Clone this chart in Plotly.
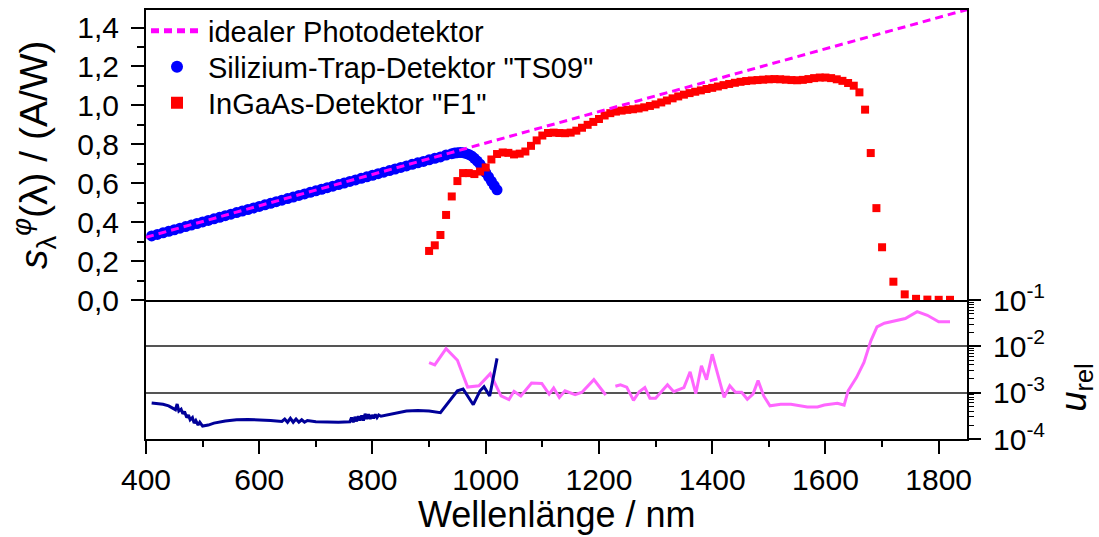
import plotly.graph_objects as go

# ---------------- data ----------------
ideal_x = [400, 1850]
ideal_s = [0.3226, 1.4921]

si_x = [410, 420, 430, 440, 450, 460, 470, 480, 490, 500,
        510, 520, 530, 540, 550, 560, 570, 580, 590, 600,
        610, 620, 630, 640, 650, 660, 670, 680, 690, 700,
        710, 720, 730, 740, 750, 760, 770, 780, 790, 800,
        810, 820, 830, 840, 850, 860, 870, 880, 890, 900,
        910, 920, 930, 940, 945, 950, 955, 960, 965, 970, 975, 980, 985,
        990, 995, 1000, 1005, 1010, 1015, 1020]
si_s = [0.329, 0.337, 0.345, 0.353, 0.361, 0.369, 0.377, 0.385, 0.393, 0.401,
        0.409, 0.417, 0.425, 0.433, 0.441, 0.449, 0.457, 0.465, 0.473, 0.481,
        0.489, 0.497, 0.505, 0.513, 0.521, 0.529, 0.537, 0.545, 0.553, 0.561,
        0.569, 0.577, 0.585, 0.593, 0.601, 0.609, 0.617, 0.625, 0.633, 0.641,
        0.649, 0.657, 0.665, 0.673, 0.681, 0.689, 0.697, 0.705, 0.712, 0.720,
        0.728, 0.735, 0.745, 0.752, 0.755, 0.757, 0.758, 0.757, 0.753, 0.748,
        0.740, 0.728, 0.714, 0.698, 0.678, 0.655, 0.633, 0.610, 0.588, 0.566]

ing_x = [900, 910, 920, 930, 940, 950, 960, 970, 980, 990,
         1000, 1010, 1020, 1030, 1040, 1050, 1060, 1070, 1080, 1090,
         1100, 1110, 1120, 1130, 1140, 1150, 1160, 1170, 1180, 1190,
         1200, 1210, 1220, 1230, 1240, 1250, 1260, 1270, 1280, 1290,
         1300, 1310, 1320, 1330, 1340, 1350, 1360, 1370, 1380, 1390,
         1400, 1410, 1420, 1430, 1440, 1450, 1460, 1470, 1480, 1490,
         1500, 1510, 1520, 1530, 1540, 1550, 1560, 1570, 1580, 1590,
         1600, 1610, 1620, 1630, 1640, 1650, 1660, 1670, 1680, 1690,
         1700, 1720, 1740, 1760, 1780, 1800, 1820]
ing_s = [0.252, 0.281, 0.334, 0.437, 0.532, 0.611, 0.652, 0.652, 0.647, 0.660,
         0.681, 0.722, 0.750, 0.758, 0.756, 0.748, 0.752, 0.763, 0.792, 0.820,
         0.845, 0.858, 0.860, 0.858, 0.857, 0.860, 0.870, 0.885, 0.900, 0.915,
         0.930, 0.948, 0.960, 0.968, 0.973, 0.977, 0.980, 0.984, 0.990, 0.997,
         1.005, 1.015, 1.025, 1.036, 1.046, 1.055, 1.063, 1.070, 1.077, 1.084,
         1.090, 1.097, 1.104, 1.110, 1.116, 1.121, 1.125, 1.128, 1.130, 1.132,
         1.134, 1.135, 1.134, 1.132, 1.130, 1.129, 1.131, 1.135, 1.140, 1.143,
         1.143, 1.140, 1.134, 1.126, 1.115, 1.101, 1.067, 0.978, 0.755, 0.472,
         0.271, 0.094, 0.029, 0.006, 0.002, 0.001, 0.001]

usi_x = [410, 420, 430, 440, 448, 452, 455, 458, 462, 465, 468, 472, 475, 478,
         482, 485, 488, 492, 495, 500, 510, 520, 540, 560, 580, 600, 620, 640,
         645, 650, 655, 660, 665, 670, 675, 680, 685, 700, 720, 740, 760, 763,
         766, 769, 772, 775, 778, 781, 784, 787, 790, 793, 796, 799, 802, 805,
         808, 811, 815, 820, 840, 860, 880, 900, 920, 935, 950, 960, 970, 978,
         990, 997, 1007, 1020]
usi_u = [6.0e-4, 5.8e-4, 5.6e-4, 5.2e-4, 4.7e-4, 4.3e-4, 5.7e-4, 4.0e-4, 4.4e-4,
         3.5e-4, 3.9e-4, 2.9e-4, 3.3e-4, 2.6e-4, 2.9e-4, 2.2e-4, 2.5e-4, 2.0e-4,
         2.3e-4, 1.9e-4, 2.0e-4, 2.2e-4, 2.45e-4, 2.6e-4, 2.65e-4, 2.6e-4, 2.5e-4,
         2.4e-4, 2.7e-4, 2.3e-4, 2.8e-4, 2.3e-4, 2.7e-4, 2.3e-4, 2.6e-4, 2.3e-4,
         2.5e-4, 2.35e-4, 2.3e-4, 2.3e-4, 2.35e-4, 2.9e-4, 2.3e-4, 3.0e-4, 2.4e-4,
         3.1e-4, 2.5e-4, 3.2e-4, 2.5e-4, 3.5e-4, 2.7e-4, 3.4e-4, 2.7e-4, 3.3e-4,
         2.8e-4, 3.4e-4, 2.9e-4, 3.3e-4, 3.1e-4, 3.2e-4, 3.6e-4, 4.0e-4, 4.1e-4,
         4.0e-4, 3.7e-4, 6.5e-4, 1.1e-3, 1.2e-3, 8.0e-4, 5.5e-4, 1.1e-3, 1.35e-3,
         8.5e-4, 5.5e-3]

uing_x = [900, 910, 930, 950, 968, 988, 1008, 1027, 1041, 1050, 1062, 1081, 1099,
          1112, 1120, 1130, 1140, 1158, 1170, 1191, 1212, 1220,
          1229, 1238, 1249, 1261, 1271, 1281, 1290, 1300, 1321, 1332, 1350, 1361,
          1371, 1381, 1390, 1400, 1421, 1431, 1441, 1452, 1462, 1472, 1481, 1491,
          1502, 1521, 1539, 1568, 1586, 1598, 1621, 1633, 1640, 1655, 1668, 1680,
          1691, 1704, 1741, 1762, 1780, 1800, 1820]
uing_u = [4.47e-3, 3.98e-3, 8.91e-3, 5.01e-3, 1.32e-3, 1.41e-3, 2.57e-3, 8.5e-4,
          7.1e-4, 1.07e-3, 8.5e-4, 1.62e-3, 1.58e-3, 9.3e-4, 1.26e-3, 7.9e-4,
          1.10e-3, 9.1e-4, 1.02e-3, 1.91e-3, 8.9e-4, None,
          1.38e-3, 1.48e-3, 1.32e-3, 6.8e-4, 1.05e-3, 1.29e-3, 7.6e-4, 7.6e-4,
          1.48e-3, 1.05e-3, 1.29e-3, 2.82e-3, 9.5e-4, 3.8e-3, 1.91e-3, 6.76e-3,
          7.9e-4, 1.41e-3, 1.02e-3, 1.02e-3, 7.2e-4, 9.3e-4, 1.82e-3, 8.5e-4,
          5.2e-4, 5.6e-4, 5.6e-4, 4.9e-4, 4.9e-4, 5.4e-4, 5.9e-4, 5.4e-4,
          1.10e-3, 2.14e-3, 4.5e-3, 1.3e-2, 2.63e-2, 3.16e-2, 3.98e-2, 5.62e-2,
          4.68e-2, 3.39e-2, 3.39e-2]

x_ticks = [400, 600, 800, 1000, 1200, 1400, 1600, 1800]
u_ticks = [1e-4, 1e-3, 1e-2, 1e-1]
u_ticktext = ["10<sup>-4</sup>", "10<sup>-3</sup>", "10<sup>-2</sup>", "10<sup>-1</sup>"]
u_minor = [m * d for d in (1e-4, 1e-3, 1e-2) for m in range(2, 10)]

FONT = "Liberation Sans, Arial, sans-serif"
TS = 30
SPLIT = 139 / 429

fig = go.Figure()

# uncertainty panel
fig.add_trace(go.Scatter(x=uing_x, y=uing_u, xaxis="x", yaxis="y2", mode="lines",
                         line=dict(color="#FF66FF", width=3), showlegend=False,
                         connectgaps=False))
fig.add_trace(go.Scatter(x=usi_x, y=usi_u, xaxis="x", yaxis="y2", mode="lines",
                         line=dict(color="#000099", width=3), showlegend=False))

# responsivity panel
fig.add_trace(go.Scatter(x=si_x, y=si_s, xaxis="x2", yaxis="y", mode="markers",
                         marker=dict(color="#0000FF", size=11, symbol="circle"),
                         name='Silizium-Trap-Detektor "TS09"', legend="legend2"))
fig.add_trace(go.Scatter(x=ing_x, y=ing_s, xaxis="x2", yaxis="y", mode="markers",
                         marker=dict(color="#FF0000", size=8, symbol="square"),
                         name='InGaAs-Detektor "F1"', legend="legend3"))
fig.add_trace(go.Scatter(x=ideal_x, y=ideal_s, xaxis="x2", yaxis="y", mode="lines",
                         line=dict(color="#FF00FF", width=3, dash="8px,5px"),
                         name="idealer Photodetektor", legend="legend"))

axis_common = dict(showline=True, linecolor="black", linewidth=2, automargin=False,
                   tickcolor="black", tickwidth=2, showgrid=False, zeroline=False,
                   tickfont=dict(family=FONT, size=TS, color="black"))

legend_common = dict(x=0.0, xanchor="left", yanchor="middle",
                     bgcolor="rgba(0,0,0,0)",
                     font=dict(family=FONT, size=29, color="black"),
                     itemsizing="constant", itemwidth=52)

fig.update_layout(
    width=1099, height=537,
    margin=dict(l=146, r=132, t=10, b=98, autoexpand=False),
    paper_bgcolor="white", plot_bgcolor="white",
    separators=", ",
    font=dict(family=FONT, color="black"),
    xaxis=dict(domain=[0, 1], anchor="y2", range=[400, 1850],
               tickmode="array", tickvals=x_ticks, ticks="outside", ticklen=13,
               minor=dict(dtick=100, ticks="outside", ticklen=6, tickcolor="black",
                          tickwidth=2, showgrid=False),
               **axis_common),
    xaxis2=dict(matches="x", anchor="y", range=[400, 1850], showline=True,
                mirror=True, linecolor="black", linewidth=2, showticklabels=False,
                ticks="", showgrid=False, zeroline=False, automargin=False),
    yaxis=dict(domain=[SPLIT, 1], anchor="x2", range=[0, 1.49],
               tickmode="linear", tick0=0, dtick=0.2, tickformat=".1f",
               ticks="outside", ticklen=13, mirror=True, ticklabelstandoff=6,
               minor=dict(dtick=0.1, ticks="outside", ticklen=7, tickcolor="black",
                          tickwidth=2, showgrid=False),
               **axis_common),
    yaxis2=dict(domain=[0, SPLIT], anchor="x", type="log", range=[-4, -1],
                side="right", mirror=True, tickmode="array", tickvals=u_ticks,
                ticktext=u_ticktext, ticks="outside", ticklen=12,
                ticklabelstandoff=6, automargin=False,
                minor=dict(tickmode="array", tickvals=u_minor, ticks="outside",
                           ticklen=5, tickcolor="black", tickwidth=1, showgrid=False),
                showline=True, linecolor="black", linewidth=2, tickcolor="black",
                tickwidth=2, showgrid=True, gridcolor="#555555", gridwidth=1.5,
                zeroline=False, tickfont=dict(family=FONT, size=TS, color="black")),
    legend=dict(y=(439 - 31) / 429, **legend_common),
    legend2=dict(y=(439 - 67) / 429, **legend_common),
    legend3=dict(y=(439 - 103) / 429, **legend_common),
    annotations=[
        dict(text="Wellenlänge / nm", xref="paper", yref="paper", x=0.5, y=0,
             yshift=-75, xanchor="center", yanchor="middle", showarrow=False,
             font=dict(family=FONT, size=36, color="black")),
        dict(text="<i>s</i><sub>λ</sub><sup><i>φ</i></sup>(λ) / (A/W)",
             xref="paper", yref="paper", x=0, xshift=-112, y=(SPLIT + 1) / 2,
             xanchor="center", yanchor="middle", textangle=-90, showarrow=False,
             font=dict(family=FONT, size=39, color="black")),
        dict(text="<i>u</i><sub>rel</sub>", xref="paper", yref="paper", x=1,
             xshift=108, y=SPLIT / 2, yshift=-18, xanchor="center",
             yanchor="middle", textangle=-90, showarrow=False,
             font=dict(family=FONT, size=36, color="black")),
    ],
)

fig.write_html("out.html")
